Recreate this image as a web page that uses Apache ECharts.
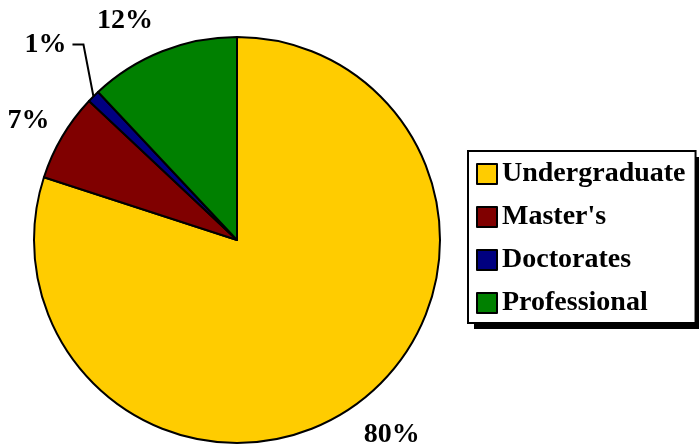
<!DOCTYPE html>
<html>
<head>
<meta charset="utf-8">
<script src="https://cdn.jsdelivr.net/npm/echarts@6/dist/echarts.min.js"></script>
<style>html,body{margin:0;padding:0;background:#fff;}#c{width:699px;height:447px;}</style>
</head>
<body>
<div id="c"></div>
<script>
var categories = ['Undergraduate', "Master's", 'Doctorates', 'Professional'];
var values = [80, 7, 1, 12];
var colors = ['#FFCC00', '#800000', '#000080', '#008000'];

// per-slice label placement styling (not data)
var labelStyles = [
  {len: 38, len2: 0, dist: -15, line: false},
  {len: 31, len2: 0, dist: -14, line: false},
  {len: 50, len2: 8, dist: 4, line: true},
  {len: 33, len2: 0, dist: -3, line: false}
];

var data = categories.map(function (c, i) {
  var s = labelStyles[i];
  return {
    name: c,
    value: values[i],
    itemStyle: {color: colors[i]},
    label: {distanceToLabelLine: s.dist},
    labelLine: {show: s.line, length: s.len, length2: s.len2}
  };
});

var chart = echarts.init(document.getElementById('c'), null, {renderer: 'canvas'});
chart.setOption({
  animation: false,
  backgroundColor: '#ffffff',
  graphic: [{
    type: 'rect',
    left: 474, top: 157, z: 0,
    shape: {width: 227, height: 172},
    style: {fill: '#000000'},
    silent: true
  }],
  legend: {
    orient: 'vertical',
    left: 468,
    top: 151,
    z: 5,
    backgroundColor: '#ffffff',
    borderColor: '#000000',
    borderWidth: 2,
    borderRadius: 0,
    padding: [9, 10, 6, 8],
    itemWidth: 20,
    itemHeight: 20,
    itemGap: 15,
    icon: 'rect',
    selectedMode: false,
    textStyle: {
      fontFamily: 'Liberation Serif',
      fontWeight: 'bold',
      fontSize: 28,
      lineHeight: 28,
      color: '#000000'
    },
    itemStyle: {borderColor: '#000000', borderWidth: 2},
    data: categories
  },
  series: [{
    type: 'pie',
    center: [237, 240],
    radius: 203,
    startAngle: 90,
    clockwise: true,
    avoidLabelOverlap: false,
    itemStyle: {borderColor: '#000000', borderWidth: 2},
    label: {
      show: true,
      position: 'outside',
      formatter: '{d}%',
      fontFamily: 'Liberation Serif',
      fontWeight: 'bold',
      fontSize: 28,
      color: '#000000'
    },
    labelLine: {
      lineStyle: {color: '#000000', width: 2}
    },
    labelLayout: function (params) {
      if (params.dataIndex !== 2 || !params.labelLinePoints) return {};
      var p0 = params.labelLinePoints[0];
      var p1 = [p0[0] - 10, p0[1] - 52];
      var p2 = [p1[0] - 11, p1[1]];
      return {
        x: p2[0] - 6,
        y: p2[1],
        align: 'right',
        verticalAlign: 'middle',
        labelLinePoints: [p0, p1, p2]
      };
    },
    emphasis: {disabled: true},
    data: data
  }]
});
</script>
</body>
</html>
